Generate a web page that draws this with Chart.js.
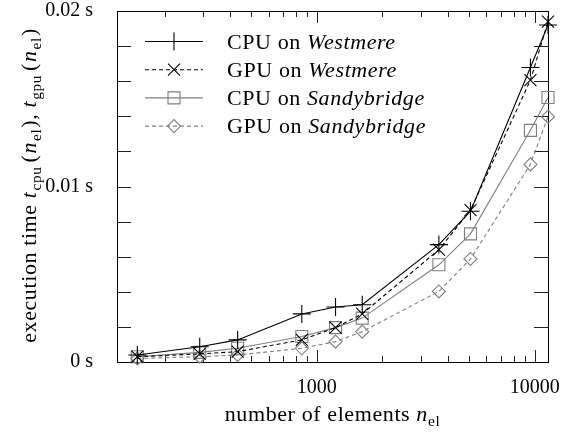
<!DOCTYPE html>
<html>
<head>
<meta charset="utf-8">
<script src="https://cdn.jsdelivr.net/npm/chart.js@4/dist/chart.umd.min.js"></script>
<style>
  html, body { margin: 0; padding: 0; background: #fff; }
  #wrap { width: 563px; height: 439px; }
</style>
</head>
<body>
<div id="wrap"><canvas id="timingChart" width="563" height="439"></canvas></div>
<script>
// number of elements (x) and execution times in seconds (y)
const elements = [150, 290, 433, 853, 1218, 1615, 3630, 5070, 9550, 11500];
const cpuWestmere = [0.0004, 0.00087, 0.00126, 0.00274, 0.00313, 0.00326, 0.00669, 0.00859, 0.01678, 0.0192];
const gpuWestmere = [0.0003, 0.00046, 0.00059, 0.00126, 0.00196, 0.00274, 0.0064, 0.00865, 0.01606, 0.01939];
const cpuSandybridge = [0.0003, 0.00055, 0.00078, 0.00145, 0.00196, 0.0025, 0.00554, 0.0073, 0.0132, 0.01507];
const gpuSandybridge = [0.0002, 0.0003, 0.0004, 0.00078, 0.00116, 0.00173, 0.00402, 0.00587, 0.01126, 0.01398];

const xTicks = [1000, 10000];
const yTicks = [0, 0.01, 0.02];

const FONT = "'Liberation Serif', 'Times New Roman', serif";
const BLACK = '#000000';
const GREY = '#7f7f7f';
const SPACING = '0.6px';

function toPoints(values) {
    return values.map((v, i) => ({ x: elements[i], y: v }));
}

function makeSeries(label, values, color, dashed, style, radius) {
    return {
        label: label,
        data: toPoints(values),
        borderColor: color,
        borderWidth: 1.1,
        borderDash: dashed ? [4, 3] : [],
        pointStyle: style,
        pointRadius: radius,
        pointHoverRadius: radius,
        pointBorderColor: color,
        pointBorderWidth: 1.1,
        pointBackgroundColor: 'rgba(0,0,0,0)',
        tension: 0,
        clip: false
    };
}

// draws a run of text pieces, some italic, some lowered as subscripts
function drawRich(ctx, parts, x, y, size) {
    const pieceFont = p => (p.italic ? 'italic ' : '') + (p.sub ? size * 0.7 : size) + 'px ' + FONT;
    let total = 0;
    parts.forEach(p => {
        ctx.font = pieceFont(p);
        p.w = ctx.measureText(p.text).width + (p.gap || 0);
        total += p.w;
    });
    let cx = x - total / 2;
    parts.forEach(p => {
        ctx.font = pieceFont(p);
        ctx.fillText(p.text, cx, y + (p.sub ? size * 0.22 : 0));
        cx += p.w;
    });
}

const framePlugin = {
    id: 'frame',
    beforeDatasetsDraw(chart) {
        const { ctx, chartArea: a, scales } = chart;
        ctx.save();
        ctx.strokeStyle = '#222';
        ctx.lineWidth = 1;
        ctx.beginPath();
        // minor and major ticks on the log axis, inside, top and bottom
        for (let dec = 100; dec <= 10000; dec *= 10) {
            for (let m = 1; m <= 9; m++) {
                const v = dec * m;
                if (v < scales.x.min || v > scales.x.max) continue;
                const px = Math.round(scales.x.getPixelForValue(v)) + 0.5;
                const len = m === 1 ? 12 : 6;
                ctx.moveTo(px, a.bottom); ctx.lineTo(px, a.bottom - len);
                ctx.moveTo(px, a.top); ctx.lineTo(px, a.top + len);
            }
        }
        // y ticks every 0.002 on both sides
        for (let k = 1; k < 10; k++) {
            const py = Math.round(scales.y.getPixelForValue(k * 0.002)) + 0.5;
            ctx.moveTo(a.left, py); ctx.lineTo(a.left + 14, py);
            ctx.moveTo(a.right, py); ctx.lineTo(a.right - 14, py);
        }
        ctx.stroke();
        ctx.strokeStyle = '#000';
        ctx.strokeRect(Math.round(a.left) + 0.5, Math.round(a.top) + 0.5,
            Math.round(a.right - a.left), Math.round(a.bottom - a.top));
        ctx.restore();
    },
    afterDraw(chart) {
        const { ctx, chartArea: a } = chart;
        ctx.save();
        ctx.fillStyle = '#000';
        ctx.textBaseline = 'alphabetic';
        ctx.letterSpacing = SPACING;

        // axis titles
        drawRich(ctx, [
            { text: 'number of elements ' },
            { text: 'n', italic: true },
            { text: 'el', sub: true }
        ], (a.left + a.right) / 2, 421, 22);

        ctx.save();
        ctx.translate(36, (a.top + a.bottom) / 2 - 1);
        ctx.rotate(-Math.PI / 2);
        drawRich(ctx, [
            { text: 'execution time ' },
            { text: 't', italic: true, gap: 1 },
            { text: 'cpu', sub: true, gap: 4 },
            { text: '(' , gap: 1},
            { text: 'n', italic: true, gap: 1 },
            { text: 'el', sub: true, gap: 1 },
            { text: '), ' },
            { text: 't', italic: true, gap: 1 },
            { text: 'gpu', sub: true, gap: 4 },
            { text: '(', gap: 1 },
            { text: 'n', italic: true, gap: 1 },
            { text: 'el', sub: true, gap: 1 },
            { text: ')' }
        ], 0, 0, 22);
        ctx.restore();

        // legend
        chart.data.datasets.forEach((ds, i) => {
            const y = 41.5 + i * 28.2;
            ctx.strokeStyle = ds.borderColor;
            ctx.lineWidth = ds.borderWidth;
            ctx.setLineDash(ds.borderDash);
            ctx.beginPath();
            ctx.moveTo(145, y); ctx.lineTo(203, y);
            ctx.stroke();
            ctx.setLineDash([]);
            ctx.fillStyle = 'rgba(0,0,0,0)';
            Chart.helpers.drawPoint(ctx, {
                pointStyle: ds.pointStyle, radius: ds.pointRadius,
                borderWidth: ds.pointBorderWidth, rotation: 0
            }, 174, y);
            const cut = ds.label.indexOf(' on ') + 4;
            ctx.fillStyle = '#000';
            ctx.font = '22px ' + FONT;
            ctx.fillText(ds.label.slice(0, cut), 227, y + 7);
            const w = ctx.measureText(ds.label.slice(0, cut)).width;
            ctx.font = 'italic 22px ' + FONT;
            ctx.fillText(ds.label.slice(cut), 227 + w, y + 7);
        });
        ctx.restore();
    }
};

Chart.defaults.font.family = FONT;
Chart.defaults.color = '#000';

new Chart(document.getElementById('timingChart'), {
    type: 'line',
    data: {
        datasets: [
            makeSeries('CPU on Westmere', cpuWestmere, BLACK, false, 'cross', 9),
            makeSeries('GPU on Westmere', gpuWestmere, BLACK, true, 'crossRot', 8.5),
            makeSeries('CPU on Sandybridge', cpuSandybridge, GREY, false, 'rect', 8.5),
            makeSeries('GPU on Sandybridge', gpuSandybridge, GREY, true, 'rectRot', 6.5)
        ]
    },
    options: {
        responsive: false,
        animation: false,
        events: [],
        layout: { padding: { top: 11, right: 15, left: 0, bottom: 0 } },
        plugins: { legend: { display: false }, tooltip: { enabled: false } },
        scales: {
            x: {
                type: 'logarithmic',
                min: 121,
                max: 11500,
                grid: { display: false, drawTicks: false },
                border: { display: false },
                afterBuildTicks: s => { s.ticks = xTicks.map(v => ({ value: v })); },
                afterFit: s => { s.height = 77; s.paddingLeft = 0; s.paddingRight = 0; },
                ticks: {
                    padding: 14,
                    maxRotation: 0,
                    font: { size: 20 },
                    callback: v => String(v)
                }
            },
            y: {
                min: 0,
                max: 0.02,
                grid: { display: false, drawTicks: false },
                border: { display: false },
                afterBuildTicks: s => { s.ticks = yTicks.map(v => ({ value: v })); },
                afterFit: s => { s.width = 117; s.paddingTop = 0; s.paddingBottom = 0; },
                ticks: {
                    padding: 24,
                    font: { size: 20 },
                    callback: v => (v === 0 ? '0' : v.toFixed(2)) + ' s'
                }
            }
        }
    },
    plugins: [framePlugin]
});
</script>
</body>
</html>
